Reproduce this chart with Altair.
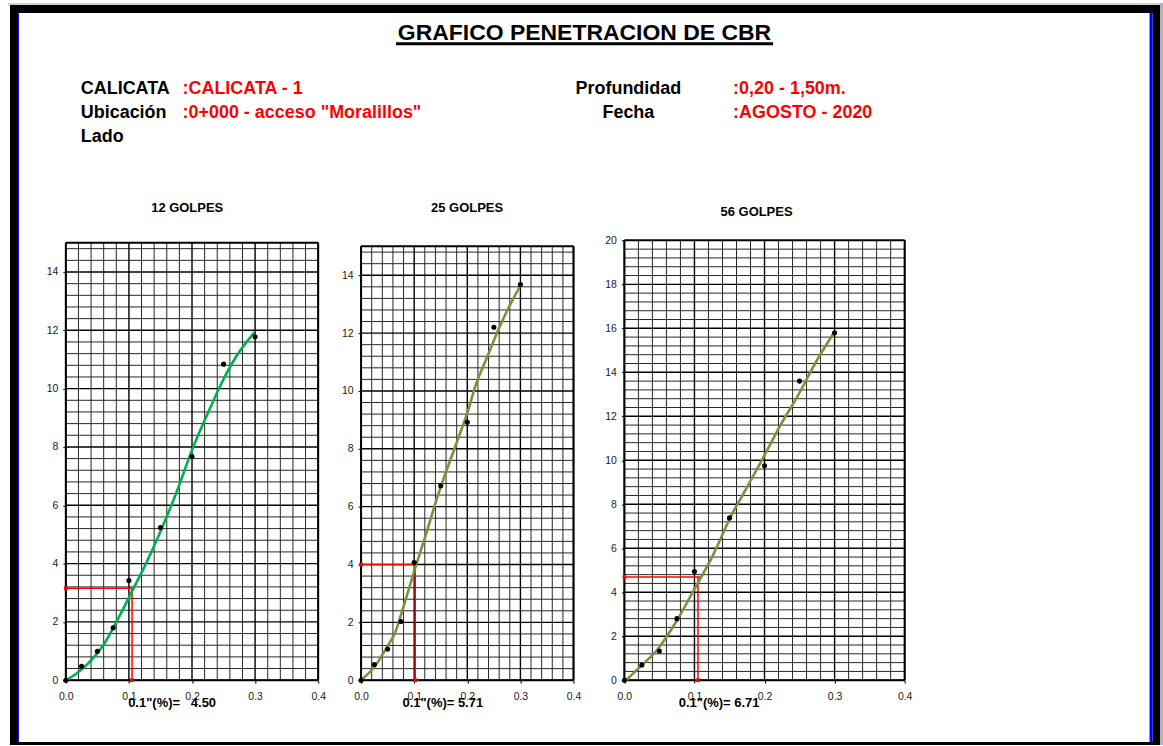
import altair as alt
import numpy as np
import pandas as pd

# ---------------- header text ----------------
TITLE = "GRAFICO PENETRACION DE CBR"
LEFT_LABELS = ["CALICATA", "Ubicación", "Lado"]
LEFT_VALUES = [":CALICATA - 1", ':0+000 - acceso "Moralillos"', ""]
RIGHT_LABELS = ["Profundidad", "Fecha"]
RIGHT_VALUES = [":0,20 - 1,50m.", ":AGOSTO - 2020"]

# ---------------- penetration data ----------------
PANEL_TITLES = ["12 GOLPES", "25 GOLPES", "56 GOLPES"]
PEN = [0.0, 0.025, 0.05, 0.075, 0.1, 0.15, 0.2, 0.25, 0.3]
LOADS = [
    [0.0, 0.48, 0.99, 1.80, 3.42, 5.24, 7.67, 10.84, 11.78],
    [0.0, 0.54, 1.08, 2.03, 4.07, 6.72, 8.92, 12.20, 13.68],
    [0.0, 0.69, 1.33, 2.80, 4.94, 7.38, 9.75, 13.60, 15.80],
]

# corrected (smoothed) curves
CURVE_X = [
    [0.0, 0.017, 0.035, 0.059, 0.080, 0.104, 0.127, 0.149, 0.175, 0.201, 0.228, 0.246, 0.270, 0.299],
    [0.0, 0.026, 0.048, 0.064, 0.080, 0.101, 0.123, 0.145, 0.167, 0.183, 0.2017, 0.214, 0.239, 0.258, 0.277, 0.2986],
    [0.0024, 0.0238, 0.0475, 0.076, 0.0997, 0.1258, 0.152, 0.1757, 0.199, 0.223, 0.2468, 0.275, 0.299],
]
CURVE_Y = [
    [0.0, 0.23, 0.57, 1.19, 1.99, 3.01, 4.00, 5.05, 6.42, 7.95, 9.30, 10.15, 11.10, 11.93],
    [0.0, 0.48, 1.12, 1.64, 2.55, 3.82, 5.09, 6.41, 7.56, 8.37, 9.34, 10.10, 11.24, 12.10, 12.85, 13.60],
    [0.0, 0.65, 1.41, 2.77, 4.13, 5.64, 7.45, 8.81, 10.17, 11.61, 12.89, 14.56, 15.80],
]

# CBR at 0.1" and the standard load used to compute it
CBR = [4.50, 5.71, 6.71]
STD_LOAD = 70.0
CBR_LABEL_GAP = [3, 1, 1]
CBR_X_TOP = [0.1075, 0.102, 0.108]
CBR_X_BOT = [0.105, 0.102, 0.105]

Y_MAX = [15, 15, 20]
X_TICKS = [0.0, 0.1, 0.2, 0.3, 0.4]

# ---------------- layout ----------------
PAGE_W, HEADER_H, VIEW_H = 1163, 240, 441
PANEL_W = [253, 213, 281]
GAPS = [63, 43, 51]
Y_TOP = [2.5, 6.0, 0.0]
TITLE_POS = [(121.7, -32.3), (106.3, -32.3), (132.5, -28.3)]
LABEL_POS = [(62, 22), (41, 22), (54, 22)]

SANS = "Liberation Sans, Arial"
GREEN = ["#00B050", "#77933C", "#77933C"]
NBSP = "\u00a0"


def one(**kw):
    return pd.DataFrame({k: [v] for k, v in kw.items()})


def htext(txt, x, y, size, color="black", align="left"):
    return alt.Chart(one(t=txt)).mark_text(
        align=align, baseline="alphabetic", font=SANS, fontSize=size,
        fontWeight="bold", color=color,
    ).encode(text="t:N", x=alt.value(x), y=alt.value(y))


def hrect(x, x2, y, y2, color):
    return alt.Chart(one(r=0)).mark_rect(color=color).encode(
        x=alt.value(x), x2=alt.value(x2), y=alt.value(y), y2=alt.value(y2)
    )


header_layers = [
    hrect(1160, 1163, 2, 746, "#b4b4b4"),
    hrect(5, 1160, 2, 4, "#d0d0d0"),
    hrect(7, 1160, 4, 12, "black"),
    hrect(7, 15, 4, 746, "black"),
    hrect(1152.5, 1160, 4, 746, "black"),
    hrect(7, 1160, 743, 746, "black"),
    hrect(15, 16, 12, 743, "#0000ff"),
    hrect(1149.5, 1152.5, 12, 743, "#0000ff"),
    htext(TITLE, 583, 39.5, 23, align="center"),
    hrect(394, 772, 41.5, 44.5, "black"),
]
for i, (lab, val) in enumerate(zip(LEFT_LABELS, LEFT_VALUES)):
    yb = 93.5 + 24 * i
    header_layers.append(htext(lab, 78, yb, 18))
    if val:
        header_layers.append(htext(val, 180, yb, 18, color="red"))
for i, (lab, val) in enumerate(zip(RIGHT_LABELS, RIGHT_VALUES)):
    yb = 93.5 + 24 * i
    header_layers.append(htext(lab, 627, yb, 18, align="center"))
    header_layers.append(htext(val, 732, yb, 18, color="red"))

header = alt.layer(*header_layers).properties(width=PAGE_W, height=HEADER_H)


def panel(i):
    w, ymax = PANEL_W[i], Y_MAX[i]
    label = '0.1"(%)=' + NBSP * CBR_LABEL_GAP[i] + f"{CBR[i]:.2f}"
    xs = alt.Scale(domain=[0, 0.4], range=[0, w], nice=False, zero=False)
    ys = alt.Scale(domain=[0, ymax], range=[VIEW_H, Y_TOP[i]], nice=False, zero=False)
    xa = alt.Axis(
        values=X_TICKS, format=".1f", title=label, titleX=LABEL_POS[i][0],
        titleY=LABEL_POS[i][1], titleAlign="left", titleBaseline="middle",
        titleAngle=0, titleFont=SANS, titleFontSize=13, titleFontWeight="bold",
        titleColor="black", grid=False, domain=False, ticks=True, tickSize=3,
        tickColor="black", labelPadding=8, labelFont=SANS, labelFontSize=10.5,
        labelColor="#1a1a1a", labelFlush=False, labelOverlap=False,
    )
    ya = alt.Axis(
        values=list(range(0, ymax, 2)) if ymax == 15 else list(range(0, ymax + 1, 2)),
        format="d", title=None, grid=False, domain=False, ticks=True, tickSize=3,
        tickColor="black", labelPadding=5, labelFont=SANS, labelFontSize=10.5,
        labelColor="#1a1a1a", labelFlush=False, labelOverlap=False,
    )

    def X(f):
        return alt.X(f, type="quantitative", scale=xs, axis=xa)

    def Y(f):
        return alt.Y(f, type="quantitative", scale=ys, axis=ya)

    gx = np.round(np.arange(0, 0.4001, 0.02), 3)
    gx_major = np.isclose(gx * 10, np.round(gx * 10))
    gy = np.round(np.arange(0, ymax - 1e-9, 0.4), 2)
    gy_major = np.isclose(gy % 2, 0)

    vgrid = pd.DataFrame({"gx": gx, "y0": 0.0, "y1": float(ymax), "major": gx_major})
    hgrid = pd.DataFrame({"gy": gy, "x0": 0.0, "x1": 0.4, "major": gy_major})

    v_minor = alt.Chart(vgrid[~vgrid.major]).mark_rule(color="#262626", strokeWidth=1).encode(
        x=X("gx"), y=Y("y0"), y2="y1")
    h_minor = alt.Chart(hgrid[~hgrid.major]).mark_rule(color="#262626", strokeWidth=1).encode(
        y=Y("gy"), x=X("x0"), x2="x1")
    v_major = alt.Chart(vgrid[vgrid.major]).mark_rule(color="black", strokeWidth=1.4).encode(
        x=X("gx"), y=Y("y0"), y2="y1")
    h_major = alt.Chart(hgrid[hgrid.major]).mark_rule(color="black", strokeWidth=1.4).encode(
        y=Y("gy"), x=X("x0"), x2="x1")

    frame_v = pd.DataFrame({"gx": [0.0, 0.4], "y0": 0.0, "y1": float(ymax)})
    frame_h = pd.DataFrame({"gy": [0.0, float(ymax)], "x0": 0.0, "x1": 0.4})
    border_v = alt.Chart(frame_v).mark_rule(color="black", strokeWidth=2).encode(
        x=X("gx"), y=Y("y0"), y2="y1")
    border_h = alt.Chart(frame_h).mark_rule(color="black", strokeWidth=2).encode(
        y=Y("gy"), x=X("x0"), x2="x1")

    cbr_load = CBR[i] * STD_LOAD / 100.0
    red_h = pd.DataFrame({"x0": [0.0], "x1": [CBR_X_TOP[i]], "yr": [cbr_load]})
    red_v = pd.DataFrame({"xr": [CBR_X_BOT[i]], "y0": [0.0], "y1": [cbr_load]})
    red_pts = pd.DataFrame({"xr": [0.0, CBR_X_BOT[i]], "yr": [cbr_load, 0.0]})
    red_line_h = alt.Chart(red_h).mark_rule(color="red", strokeWidth=1.5).encode(
        x=X("x0"), x2="x1", y=Y("yr"))
    red_line_v = alt.Chart(red_v).mark_rule(color="red", strokeWidth=1.5).encode(
        x=X("xr"), y=Y("y0"), y2="y1")
    red_marks = alt.Chart(red_pts).mark_square(color="red", size=14, opacity=1).encode(
        x=X("xr"), y=Y("yr"))

    curve = alt.Chart(pd.DataFrame({"cx": CURVE_X[i], "cy": CURVE_Y[i]})).mark_line(
        color=GREEN[i], strokeWidth=2.6, interpolate="monotone").encode(x=X("cx"), y=Y("cy"))
    pts = alt.Chart(pd.DataFrame({"px": PEN, "py": LOADS[i]})).mark_circle(
        color="black", size=26, opacity=1).encode(x=X("px"), y=Y("py"))

    title = alt.Chart(one(t=PANEL_TITLES[i])).mark_text(
        align="center", baseline="middle", font=SANS, fontSize=13, fontWeight="bold",
        color="black").encode(text="t:N", x=alt.value(TITLE_POS[i][0]), y=alt.value(TITLE_POS[i][1]))

    return alt.layer(
        v_minor, h_minor, v_major, h_major, border_v, border_h,
        red_line_h, red_line_v, red_marks, curve, pts, title,
    ).properties(width=w, height=VIEW_H)


def spacer(w):
    return alt.Chart(one(r=0)).mark_point(opacity=0).encode(
        x=alt.value(0), y=alt.value(0)).properties(width=w, height=10)


row_items = []
for i in range(3):
    row_items.append(spacer(GAPS[i]))
    row_items.append(panel(i))

row = alt.hconcat(*row_items, spacing=0, bounds="flush")

chart = alt.vconcat(header, row, spacing=0, bounds="flush").properties(
    padding=0, background="white"
).configure_view(strokeWidth=0)

chart.save("out.html", embed_options={"renderer": "svg", "actions": False})
